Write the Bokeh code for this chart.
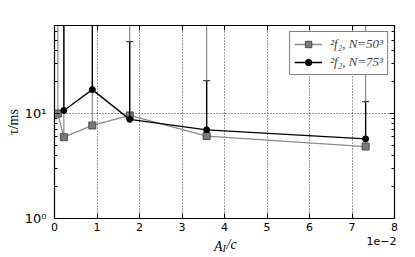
import numpy as np
from bokeh.plotting import figure
from bokeh.models import (Range1d, LinearAxis, LogAxis,
                          FixedTicker, Label, CustomJSTickFormatter)
from bokeh.embed import file_html
from bokeh.resources import INLINE

# ---- data (x in units of 1e-2) ----
x_n50 = [0.078, 0.22, 0.89, 1.77, 3.58, 7.32]
tau_n50 = [10.0, 5.95, 7.7, 9.6, 6.1, 4.85]
tau_n50_upper = [300, 300, 300, 300, 300, 300]

x_n75 = [0.22, 0.89, 1.77, 3.58, 7.32]
tau_n75 = [10.7, 16.9, 8.8, 7.0, 5.74]
tau_n75_upper = [300, 300, 48.5, 20.6, 13.0]

x_ticks = [0, 1, 2, 3, 4, 5, 6, 7, 8]
y_ticks = [1, 10]
y_minor_ticks = [2, 3, 4, 5, 6, 7, 8, 9, 20, 30, 40, 50, 60]
y_tick_labels = {"1": "10\u2070", "10": "10\u00b9"}

label_n50 = "\u00b2f\u2082, N=50\u00b3"
label_n75 = "\u00b2f\u2082, N=75\u00b3"

GRAY_LINE = "#8a8a8a"
GRAY_FILL = "#7a7a7a"
GRAY_EDGE = "#4a4a4a"

p = figure(width=415, height=257, output_backend="svg", toolbar_location=None,
           y_axis_type="log", x_range=Range1d(0, 8), y_range=Range1d(1, 69),
           frame_width=340, frame_height=193,
           min_border_left=54, min_border_right=21, min_border_top=25, min_border_bottom=39)
p.background_fill_color = "white"
p.border_fill_color = "white"
p.outline_line_color = "black"
p.outline_line_width = 1.2

# axes
xa = p.xaxis[0]
xa.ticker = FixedTicker(ticks=x_ticks)
ya = p.yaxis[0]
ya.ticker = FixedTicker(ticks=y_ticks, minor_ticks=y_minor_ticks)
ya.formatter = CustomJSTickFormatter(args=dict(m=y_tick_labels),
                                     code="var k = String(Math.round(tick)); return (k in m) ? m[k] : String(tick);")
for ax in (xa, ya):
    ax.major_tick_in = 5
    ax.major_tick_out = 0
    ax.minor_tick_in = 3
    ax.minor_tick_out = 0
    ax.axis_line_color = "black"
    ax.major_tick_line_color = "black"
    ax.minor_tick_line_color = "black"
    ax.major_label_text_font = "DejaVu Sans"
    ax.major_label_text_color = "black"
xa.major_label_text_font_size = "11px"
ya.major_label_text_font_size = "13px"
xa.major_label_standoff = 4
ya.major_label_standoff = 8

ya.axis_label = "\u03c4/ms"
ya.axis_label_text_font = "Liberation Serif"
ya.axis_label_text_font_style = "normal"
ya.axis_label_text_font_size = "14px"
ya.axis_label_text_color = "black"
ya.axis_label_standoff = 1

top = LinearAxis(ticker=FixedTicker(ticks=x_ticks), major_label_text_alpha=0,
                 major_label_text_font_size="6px",
                 major_tick_in=5, major_tick_out=0, major_label_standoff=0,
                 minor_tick_line_color=None)
right = LogAxis(ticker=FixedTicker(ticks=y_ticks, minor_ticks=y_minor_ticks),
                major_label_text_alpha=0, major_label_text_font_size="6px",
                major_tick_in=5, major_tick_out=0, minor_tick_in=3, minor_tick_out=0,
                major_label_standoff=0)
p.add_layout(top, "above")
p.add_layout(right, "right")

p.xgrid.grid_line_color = "black"
p.xgrid.grid_line_dash = "1 2"
p.xgrid.grid_line_width = 0.8
p.ygrid.grid_line_color = "black"
p.ygrid.grid_line_dash = "1 2"
p.ygrid.grid_line_width = 0.8
p.ygrid.ticker = FixedTicker(ticks=[10])
p.xgrid.ticker = FixedTicker(ticks=[1, 2, 3, 4, 5, 6, 7])

# N=50 series (gray)
p.segment(x0=x_n50, y0=tau_n50, x1=x_n50, y1=tau_n50_upper, line_color=GRAY_LINE, line_width=1.2)
p.line(x_n50, tau_n50, line_color=GRAY_LINE, line_width=1.3, legend_label=label_n50)
p.scatter(x_n50, tau_n50, marker="square", size=7, fill_color=GRAY_FILL,
          line_color=GRAY_EDGE, line_width=1, legend_label=label_n50)

# N=75 series (black)
p.segment(x0=x_n75, y0=tau_n75, x1=x_n75, y1=tau_n75_upper, line_color="black", line_width=1.3)
p.scatter(x_n75, tau_n75_upper, marker="dash", size=7, line_color="#444444", line_width=1.2)
p.line(x_n75, tau_n75, line_color="black", line_width=1.3, legend_label=label_n75)
p.scatter(x_n75, tau_n75, marker="circle", size=6, fill_color="black",
          line_color="black", legend_label=label_n75)

leg = p.legend[0]
leg.location = "top_right"
leg.margin = 6
leg.padding = 4
leg.spacing = 2
leg.label_text_font = "Liberation Serif"
leg.label_text_font_style = "italic"
leg.label_text_font_size = "13px"
leg.label_height = 16
leg.glyph_height = 16
leg.glyph_width = 28
leg.label_standoff = 8
leg.border_line_color = "black"
leg.border_line_width = 1
leg.background_fill_alpha = 1

# x label pieces and offset text placed in the panel below the frame
# (each label occupies its own row in the panel; offsets pull them back up)
p.add_layout(Label(x=168, y=2, x_units="screen", y_units="screen", text="A",
                   text_font="Liberation Serif", text_font_style="italic", text_font_size="14px",
                   text_align="right", text_baseline="middle", text_color="black"), "below")
p.add_layout(Label(x=168, y=11, x_units="screen", y_units="screen", text="I",
                   text_font="Liberation Serif", text_font_style="italic", text_font_size="10px",
                   text_align="left", text_baseline="middle", text_color="black"), "below")
p.add_layout(Label(x=172, y=30, x_units="screen", y_units="screen", text="/c",
                   text_font="Liberation Serif", text_font_style="italic", text_font_size="14px",
                   text_align="left", text_baseline="middle", text_color="black"), "below")
p.add_layout(Label(x=342, y=42, x_units="screen", y_units="screen", text="1e\u22122",
                   text_font="DejaVu Sans", text_font_size="11px",
                   text_align="right", text_baseline="middle", text_color="black"), "below")

open("out.html", "w").write(file_html(p, INLINE))
